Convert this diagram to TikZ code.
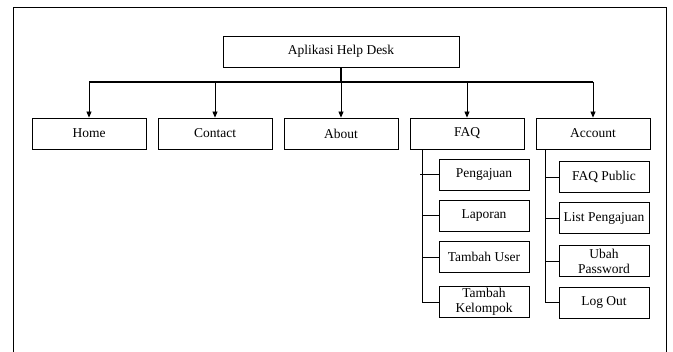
\documentclass[tikz,border=0pt]{standalone}
\usepackage{fontspec}
\setmainfont{Liberation Serif}
\usetikzlibrary{arrows.meta}
\begin{document}
\begin{tikzpicture}[x=1pt,y=-1pt,
  box/.style={draw=black,line width=0.8pt,fill=white,inner sep=0pt,align=center,
    font=\fontsize{13.5}{15}\selectfont},
  topbox/.style={box,minimum width=236pt,minimum height=31pt},
  mainbox/.style={box,minimum width=114pt,minimum height=31pt},
  subbox/.style={box,minimum width=90pt,minimum height=31pt},
  link/.style={line width=0.8pt},
  arr/.style={line width=0.8pt,-{Triangle[length=6pt,width=5pt]}}]
\useasboundingbox (0,0) rectangle (673,352);
% frame
\draw[line width=0.9pt] (13.5,352) -- (13.5,7.5) -- (666,7.5) -- (666,352);
% top
\node[topbox] (top) at (341,51.5) {Aplikasi Help Desk};
% main row
\node[mainbox] (home) at (89,133.5) {Home};
\node[mainbox] (contact) at (215,133.5) {Contact};
\node[mainbox] (about) at (341,133.5) {About};
\node[mainbox] (faq) at (467,133.5) {FAQ};
\node[mainbox] (account) at (593,133.5) {Account};
% bar
\coordinate (bl) at (89,82);
\coordinate (br) at (593,82);
\coordinate (bm) at (341,82);
\draw[line width=2pt] (top.south) -- (bm);
\draw[line width=1.3pt] (bl) -- (br);
\foreach \n in {home,contact,about,faq,account}
  \draw[arr] (bl -| \n.north) -- (\n.north);
% FAQ children
\node[subbox] (peng) at (484,174.5) {Pengajuan};
\node[subbox] (lap) at (484,215.7) {Laporan};
\node[subbox] (tu) at (484,257) {Tambah User};
\node[subbox,font=\fontsize{13.5}{15.5}\selectfont] (tk) at (484,302) {Tambah\\Kelompok};
\coordinate (ft) at (422.7,149.3);
\draw[link] (ft) -- (ft |- tk.west) -- (tk.west);
\draw[link] ([xshift=-2.5pt]ft |- peng.west) -- (peng.west);
\draw[link] (ft |- lap.west) -- (lap.west);
\draw[link] (ft |- tu.west) -- (tu.west);
% Account children
\node[subbox] (fp) at (604,177) {FAQ Public};
\node[subbox] (lp) at (604,218.3) {List Pengajuan};
\node[subbox,font=\fontsize{13.5}{15.5}\selectfont] (up) at (604,261.3) {Ubah\\Password};
\node[subbox] (lo) at (604,302.8) {Log Out};
\coordinate (at) at (545,149.3);
\draw[link] (at) -- (at |- lo.west) -- (lo.west);
\draw[link] (at |- fp.west) -- (fp.west);
\draw[link] (at |- lp.west) -- (lp.west);
\draw[link] (at |- up.west) -- (up.west);
\end{tikzpicture}
\end{document}
